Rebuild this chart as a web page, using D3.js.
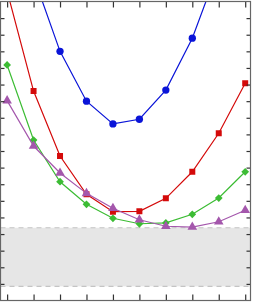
<!DOCTYPE html>
<html>
<head>
<meta charset="utf-8">
<script src="https://cdn.jsdelivr.net/npm/d3@7"></script>
<style>
  html, body { margin: 0; padding: 0; background: #fff; }
  svg { display: block; }
</style>
</head>
<body>
<svg id="chart" width="253" height="303"></svg>
<script>
// x positions (categories) and the four series
const xValues = [1, 2, 3, 4, 5, 6, 7, 8, 9, 10];
const blueValues   = [26.0, 19.5, 15.0, 12.0, 10.63, 10.91, 12.67, 15.79, 20.08, 25.6];
const redValues    = [18.63, 12.61, 8.70, 6.39, 5.35, 5.37, 6.15, 7.75, 10.07, 13.08];
const greenValues  = [14.18, 9.66, 7.15, 5.79, 4.95, 4.62, 4.67, 5.19, 6.17, 7.75];
const purpleValues = [12.03, 9.30, 7.68, 6.45, 5.55, 4.86, 4.47, 4.42, 4.74, 5.43];
const bandRange = [0.85, 4.38];
const yTickValues = d3.range(1, 18);

const svg = d3.select("#chart");
const plotLeft = 0.5, plotRight = 250.5, plotTop = 1.5, plotBottom = 300.5;

const x = d3.scaleLinear().domain([0.75, 10.2]).range([plotLeft, plotRight]);
const y = d3.scaleLinear().domain([0, 18]).range([plotBottom, plotTop]);

svg.append("defs").append("clipPath").attr("id", "clip")
    .append("rect")
    .attr("x", plotLeft).attr("y", plotTop)
    .attr("width", plotRight - plotLeft).attr("height", plotBottom - plotTop);

const plot = svg.append("g").attr("clip-path", "url(#clip)");

// grey band with dashed edges
plot.append("rect")
    .attr("x", plotLeft)
    .attr("y", y(bandRange[1]))
    .attr("width", plotRight - plotLeft)
    .attr("height", y(bandRange[0]) - y(bandRange[1]))
    .attr("fill", "#e6e6e6");

bandRange.forEach(v => {
    plot.append("line")
        .attr("x1", plotLeft).attr("x2", plotRight)
        .attr("y1", y(v)).attr("y2", y(v))
        .attr("stroke", "#c4c4c4")
        .attr("stroke-width", 1.2)
        .attr("stroke-dasharray", "5,4");
});

// rotate = 45 turns the square into a diamond
const series = [
    { values: blueValues,   color: "#0a14d8", symbol: d3.symbolCircle,   size: 42, rotate: 0 },
    { values: redValues,    color: "#d40a0a", symbol: d3.symbolSquare,   size: 36, rotate: 0 },
    { values: greenValues,  color: "#3cbc34", symbol: d3.symbolSquare,   size: 30, rotate: 45 },
    { values: purpleValues, color: "#a457ac", symbol: d3.symbolTriangle, size: 40, rotate: 0 }
];

const line = d3.line()
    .x((d, i) => x(xValues[i]))
    .y(d => y(d));

series.forEach(s => {
    plot.append("path")
        .datum(s.values)
        .attr("fill", "none")
        .attr("stroke", s.color)
        .attr("stroke-width", 1.2)
        .attr("d", line);

    plot.selectAll(null)
        .data(s.values)
        .enter()
        .append("path")
        .attr("transform", (d, i) => `translate(${x(xValues[i])},${y(d)}) rotate(${s.rotate})`)
        .attr("d", d3.symbol().type(s.symbol).size(s.size))
        .attr("fill", s.color);
});

// ticks pointing inward on all four sides
const axisColor = "#333";
function styleAxis(g) {
    g.select(".domain").remove();
    g.selectAll(".tick line").attr("stroke", axisColor).attr("stroke-width", 1.2);
}

svg.append("g")
    .attr("transform", `translate(0,${plotBottom})`)
    .call(d3.axisBottom(x).tickValues(xValues).tickSize(-6).tickFormat(""))
    .call(styleAxis);

svg.append("g")
    .attr("transform", `translate(0,${plotTop})`)
    .call(d3.axisTop(x).tickValues(xValues).tickSize(-6).tickFormat(""))
    .call(styleAxis);

svg.append("g")
    .attr("transform", `translate(${plotLeft},0)`)
    .call(d3.axisLeft(y).tickValues(yTickValues).tickSize(-4).tickFormat(""))
    .call(styleAxis);

svg.append("g")
    .attr("transform", `translate(${plotRight},0)`)
    .call(d3.axisRight(y).tickValues(yTickValues).tickSize(-4).tickFormat(""))
    .call(styleAxis);

// frame
svg.append("rect")
    .attr("x", plotLeft).attr("y", plotTop)
    .attr("width", plotRight - plotLeft).attr("height", plotBottom - plotTop)
    .attr("fill", "none")
    .attr("stroke", "#666")
    .attr("stroke-width", 1.2);
</script>
</body>
</html>
